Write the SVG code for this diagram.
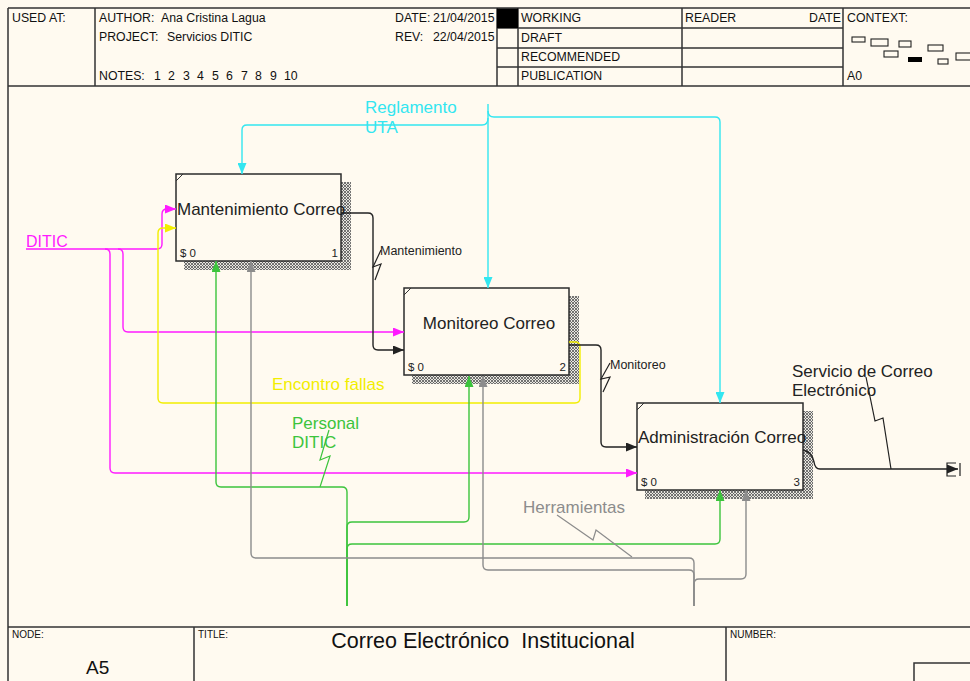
<svg xmlns="http://www.w3.org/2000/svg" width="970" height="681" viewBox="0 0 970 681">
  <defs>
    <style>
      text { font-family: "Liberation Sans", Arial, sans-serif; }
      .frame { fill: none; stroke: #333; stroke-width: 1.5; }
      .hdr { font-size: 12.3px; fill: #111; }
      .ftr { font-size: 10px; fill: #111; }
      .box { fill: #fffaf0; stroke: #2b2b2b; stroke-width: 1.5; }
      .shadow { fill: url(#hatch); }
      .blabel { font-size: 17px; fill: #222; }
      .small { font-size: 11.5px; fill: #222; }
      .line { fill: none; stroke-width: 1.4; }
      .k { stroke: #222; }
      .c { stroke: #33e6f0; }
      .m { stroke: #ff1aff; }
      .y { stroke: #f2ee00; }
      .g { stroke: #3cc43c; }
      .gr { stroke: #8c8c8c; }
      .sq { fill: none; stroke-width: 1.2; }
      .lbl { font-size: 17px; }
    </style>
    <pattern id="hatch" width="3" height="3" patternUnits="userSpaceOnUse">
      <rect width="3" height="3" fill="#e8e6e0"/>
      <path d="M0,0 L3,3 M3,0 L0,3" stroke="#555" stroke-width="0.8"/>
    </pattern>
    <marker id="ak" markerUnits="userSpaceOnUse" markerWidth="12" markerHeight="9" refX="11" refY="4.5" orient="auto"><path d="M0,0 L11,4.5 L0,9 z" fill="#222"/></marker>
    <marker id="ac" markerUnits="userSpaceOnUse" markerWidth="12" markerHeight="9" refX="11" refY="4.5" orient="auto"><path d="M0,0 L11,4.5 L0,9 z" fill="#33e6f0"/></marker>
    <marker id="am" markerUnits="userSpaceOnUse" markerWidth="12" markerHeight="9" refX="11" refY="4.5" orient="auto"><path d="M0,0 L11,4.5 L0,9 z" fill="#ff1aff"/></marker>
    <marker id="ay" markerUnits="userSpaceOnUse" markerWidth="12" markerHeight="9" refX="11" refY="4.5" orient="auto"><path d="M0,0 L11,4.5 L0,9 z" fill="#f2ee00"/></marker>
    <marker id="ag" markerUnits="userSpaceOnUse" markerWidth="12" markerHeight="9" refX="11" refY="4.5" orient="auto"><path d="M0,0 L11,4.5 L0,9 z" fill="#3cc43c"/></marker>
    <marker id="agr" markerUnits="userSpaceOnUse" markerWidth="12" markerHeight="9" refX="11" refY="4.5" orient="auto"><path d="M0,0 L11,4.5 L0,9 z" fill="#8c8c8c"/></marker>
  </defs>

  <rect width="970" height="681" fill="#fffaf0"/>

  <!-- header block -->
  <g id="header">
    <path class="frame" d="M8,8 H970 M8,8 V681 M8,86 H970 M95,8 V86 M497,8 V86 M518,8 V86 M682,8 V86 M843,8 V86 M497,28 H843 M497,48 H843 M497,67 H843"/>
    <text class="hdr" x="12" y="22">USED AT:</text>
    <text class="hdr" x="99" y="22">AUTHOR:</text>
    <text class="hdr" x="161" y="22">Ana Cristina Lagua</text>
    <text class="hdr" x="99" y="41">PROJECT:</text>
    <text class="hdr" x="167" y="41">Servicios DITIC</text>
    <text class="hdr" x="99" y="80">NOTES:</text>
    <text class="hdr" x="154" y="80">1</text>
    <text class="hdr" x="168" y="80">2</text>
    <text class="hdr" x="183" y="80">3</text>
    <text class="hdr" x="197" y="80">4</text>
    <text class="hdr" x="212" y="80">5</text>
    <text class="hdr" x="226" y="80">6</text>
    <text class="hdr" x="241" y="80">7</text>
    <text class="hdr" x="255" y="80">8</text>
    <text class="hdr" x="270" y="80">9</text>
    <text class="hdr" x="284" y="80">10</text>
    <text class="hdr" x="395" y="22">DATE:</text>
    <text class="hdr" x="433" y="22">21/04/2015</text>
    <text class="hdr" x="395" y="41">REV:</text>
    <text class="hdr" x="433" y="41">22/04/2015</text>
    <rect x="497" y="8.5" width="21" height="19.5" fill="#000"/>
    <text class="hdr" x="521" y="22">WORKING</text>
    <text class="hdr" x="521" y="42">DRAFT</text>
    <text class="hdr" x="521" y="61">RECOMMENDED</text>
    <text class="hdr" x="521" y="80">PUBLICATION</text>
    <text class="hdr" x="685" y="22">READER</text>
    <text class="hdr" x="841" y="22" text-anchor="end">DATE</text>
    <text class="hdr" x="847" y="22">CONTEXT:</text>
    <text class="hdr" x="847" y="80">A0</text>
    <g fill="none" stroke="#222" stroke-width="1.1">
      <rect x="852" y="37" width="13" height="5"/>
      <rect x="871" y="39" width="17" height="7"/>
      <rect x="899" y="41" width="12" height="6"/>
      <rect x="884" y="51" width="14" height="6"/>
      <rect x="928" y="45" width="15" height="6"/>
      <rect x="938" y="59" width="10" height="5"/>
      <rect x="956" y="53" width="20" height="7"/>
    </g>
    <rect x="908" y="57" width="14" height="5" fill="#000"/>
  </g>

  <!-- footer block -->
  <g id="footer">
    <path class="frame" d="M8,627 H970 M194,627 V681 M726,627 V681"/>
    <rect x="914" y="663" width="70" height="30" class="frame"/>
    <text class="ftr" x="12" y="638">NODE:</text>
    <text x="86" y="674" font-size="19" fill="#111">A5</text>
    <text class="ftr" x="198" y="638">TITLE:</text>
    <text x="483" y="648" font-size="21.5" fill="#111" text-anchor="middle" xml:space="preserve">Correo Electrónico  Institucional</text>
    <text class="ftr" x="730" y="638">NUMBER:</text>
  </g>

  <!-- activity boxes -->
  <g id="box-1">
    <rect class="shadow" x="184" y="182" width="167" height="88"/>
    <rect class="box" x="176" y="174" width="165" height="87"/>
    <path d="M176,181 L183,174" stroke="#333" stroke-width="1"/>
    <text class="blabel" x="177" y="215">Mantenimiento Correo</text>
    <text class="small" x="180" y="257">$ 0</text>
    <text class="small" x="338" y="257" text-anchor="end">1</text>
  </g>
  <g id="box-2">
    <rect class="shadow" x="412" y="296" width="167" height="88"/>
    <rect class="box" x="404" y="288" width="165" height="87"/>
    <path d="M404,295 L411,288" stroke="#333" stroke-width="1"/>
    <text class="blabel" x="489" y="329" text-anchor="middle">Monitoreo Correo</text>
    <text class="small" x="408" y="371">$ 0</text>
    <text class="small" x="566" y="371" text-anchor="end">2</text>
  </g>
  <g id="box-3">
    <rect class="shadow" x="645" y="411" width="168" height="88"/>
    <rect class="box" x="637" y="403" width="166" height="87"/>
    <path d="M637,410 L644,403" stroke="#333" stroke-width="1"/>
    <text class="blabel" x="638" y="443">Administración Correo</text>
    <text class="small" x="641" y="486">$ 0</text>
    <text class="small" x="800" y="486" text-anchor="end">3</text>
  </g>

  <!-- arrows -->
  <g id="connectors">
    <!-- control: Reglamento UTA -->
    <path class="line c" d="M488,104 V288" marker-end="url(#ac)"/>
    <path class="line c" d="M488,118 Q488,125 482,125 H247 Q242,125 242,130 V174" marker-end="url(#ac)"/>
    <path class="line c" d="M488,111 Q488,117 494,117 H715 Q720,117 720,122 V403" marker-end="url(#ac)"/>
    <text class="lbl" x="365" y="113" fill="#33e6f0">Reglamento</text>
    <text class="lbl" x="365" y="133" fill="#33e6f0">UTA</text>

    <!-- input: DITIC -->
    <path class="line m" d="M26,249 H157 Q162,249 162,244 V214 Q162,209 167,209 H176" marker-end="url(#am)"/>
    <path class="line m" d="M118,249 Q123,249 123,254 V327 Q123,332 128,332 H404" marker-end="url(#am)"/>
    <path class="line m" d="M105,249 Q110,249 110,254 V468 Q110,473 115,473 H637" marker-end="url(#am)"/>
    <text x="26" y="247" font-size="16" fill="#ff1aff">DITIC</text>

    <!-- feedback: Encontro fallas -->
    <path class="line y" d="M569,342 H575 Q580,342 580,347 V398 Q580,403 575,403 H163 Q158,403 158,398 V233 Q158,228 163,228 H176" marker-end="url(#ay)"/>
    <text class="lbl" x="272" y="390" fill="#f2ee00">Encontro fallas</text>

    <!-- Mantenimiento -->
    <path class="line k" d="M341,213 H368 Q373,213 373,218 V345 Q373,350 378,350 H404" marker-end="url(#ak)"/>
    <path class="sq k" d="M381,250 L373,267 L381,264 L375,280"/>
    <text x="380" y="255" font-size="12.5" fill="#222">Mantenimiento</text>

    <!-- Monitoreo -->
    <path class="line k" d="M569,345 H596 Q601,345 601,350 V442 Q601,447 606,447 H637" marker-end="url(#ak)"/>
    <path class="sq k" d="M610,363 L601,379 L610,377 L603,392"/>
    <text x="610" y="369" font-size="12.5" fill="#222">Monitoreo</text>

    <!-- output: Servicio de Correo Electrónico -->
    <path class="line k" d="M803,450 Q812,452 814,462 Q815,469 820,469 H958" marker-end="url(#ak)"/>
    <path fill="none" stroke="#222" stroke-width="1.2" d="M956,463 H947 V476 H956 M960,463 V476"/>
    <path class="sq k" d="M866,377 L875,421 L883,418 L891,469"/>
    <text class="lbl" x="792" y="377" fill="#222">Servicio de Correo</text>
    <text class="lbl" x="792" y="396" fill="#222">Electrónico</text>

    <!-- mechanism: Personal DITIC -->
    <path class="line g" d="M347,606 V492 Q347,487 342,487 H221 Q216,487 216,482 V261" marker-end="url(#ag)"/>
    <path class="line g" d="M347,606 V527 Q347,522 352,522 H464 Q469,522 469,517 V376" marker-end="url(#ag)"/>
    <path class="line g" d="M347,606 V549 Q347,544 352,544 H715 Q720,544 720,539 V490" marker-end="url(#ag)"/>
    <path class="sq g" d="M329,430 L320,460 L330,456 L320,487"/>
    <text class="lbl" x="292" y="429" fill="#3cc43c">Personal</text>
    <text class="lbl" x="292" y="448" fill="#3cc43c">DITIC</text>

    <!-- mechanism: Herramientas -->
    <path class="line gr" d="M694,606 V563 Q694,558 689,558 H256 Q251,558 251,553 V261" marker-end="url(#agr)"/>
    <path class="line gr" d="M694,606 V575 Q694,570 689,570 H488 Q483,570 483,565 V376" marker-end="url(#agr)"/>
    <path class="line gr" d="M694,606 V584 Q694,579 699,579 H741 Q746,579 746,574 V490" marker-end="url(#agr)"/>
    <path class="sq gr" d="M557,515 L593,540 L596,530 L632,557"/>
    <text class="lbl" x="523" y="513" fill="#8c8c8c">Herramientas</text>
  </g>
</svg>
